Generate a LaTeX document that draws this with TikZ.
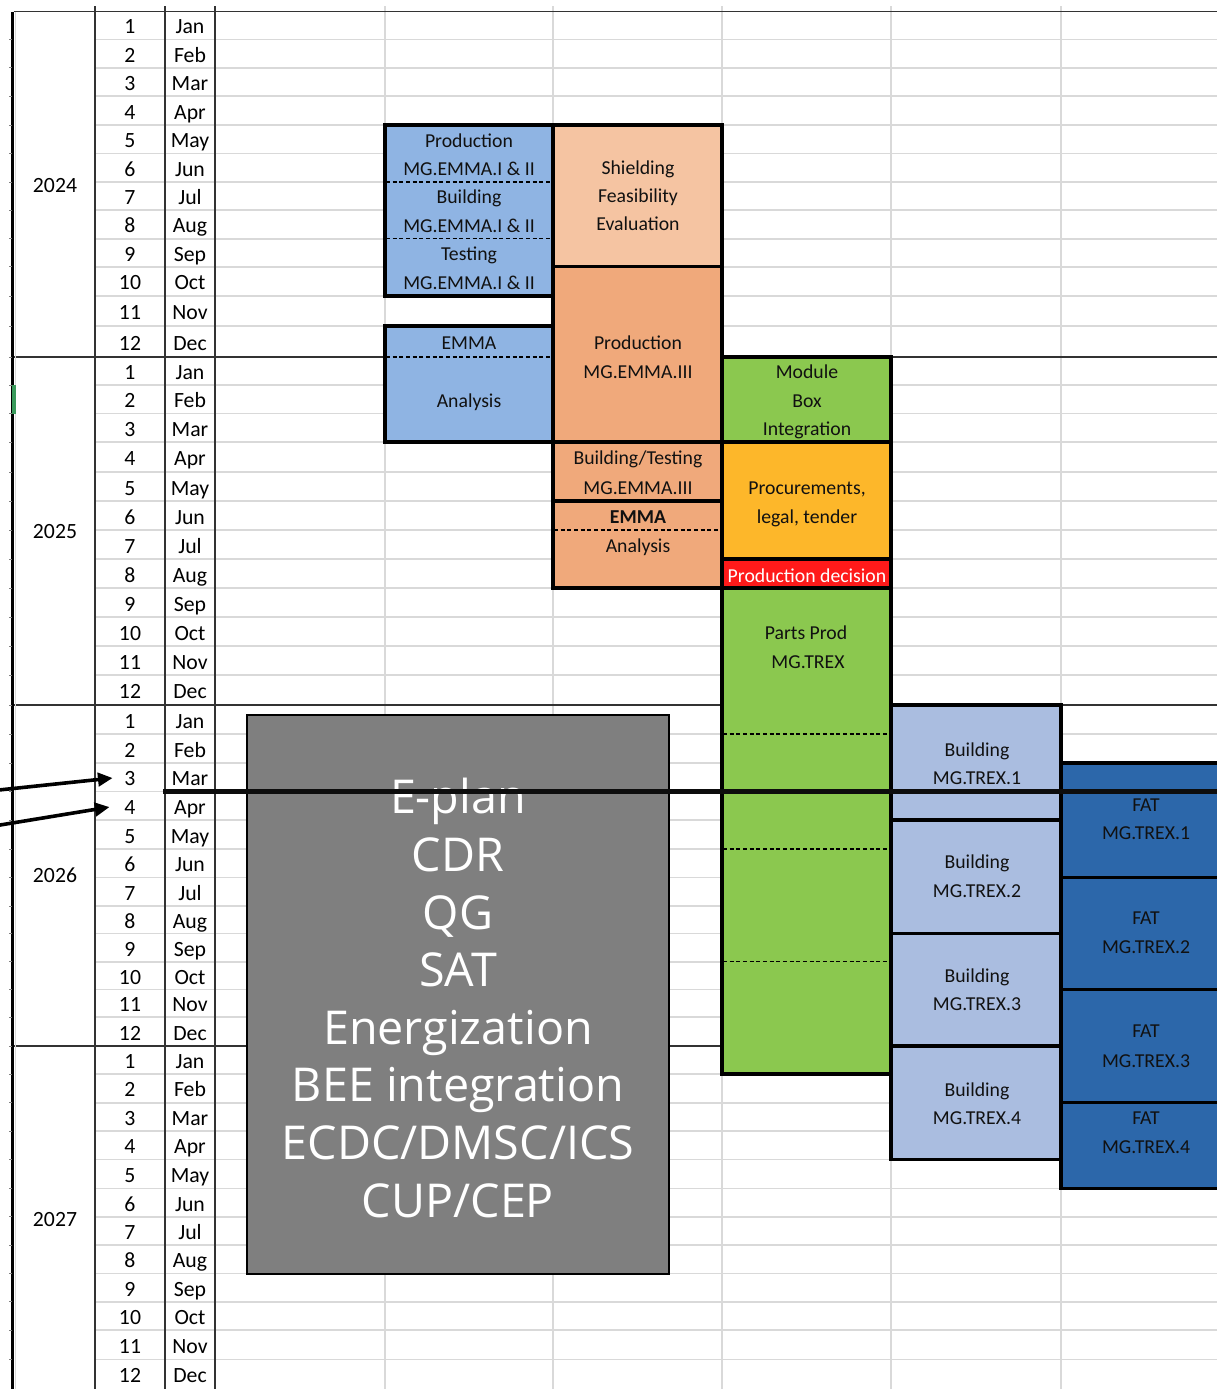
\documentclass[tikz,border=0pt]{standalone}
\usepackage{fontspec}
\setmainfont{Carlito}
\newfontfamily\bigfont{Open Sans}
\usetikzlibrary{arrows.meta}
\definecolor{cblue}{HTML}{8FB4E3}
\definecolor{cpeach}{HTML}{F5C4A2}
\definecolor{corangepeach}{HTML}{F0A97B}
\definecolor{cgreen}{HTML}{8BC84F}
\definecolor{corange}{HTML}{FDB72A}
\definecolor{cred}{HTML}{FF1A1A}
\definecolor{clightblue}{HTML}{AABDE0}
\definecolor{cdarkblue}{HTML}{2C67AA}
\definecolor{cgrey}{HTML}{7F7F7F}
\definecolor{cgridlt}{HTML}{D9D9D9}
\definecolor{cgriddk}{HTML}{333333}
\definecolor{cmark}{HTML}{3A9A5B}
\definecolor{ctxt}{HTML}{111111}
\begin{document}
\begin{tikzpicture}[x=0.75pt,y=-0.75pt,
  gridlt/.style={draw=cgridlt,line width=1.2pt},
  griddk/.style={draw=cgriddk,line width=1.4pt},
  boxline/.style={draw=black,line width=2.4pt},
  divider/.style={draw=black,line width=0.9pt,dash pattern=on 3pt off 2pt},
  celltxt/.style={inner sep=0pt,text height=10.5pt,text depth=0pt,font=\fontsize{16.3}{19}\selectfont,text=black},
  boxtxt/.style={inner sep=0pt,text height=9.5pt,text depth=0pt,font=\fontsize{14.8}{18}\selectfont,text=ctxt},
  bigtxt/.style={inner sep=0pt,align=center,text=white,font=\bigfont\fontsize{35}{43.2}\selectfont},
  pointer/.style={draw=black,line width=2.7pt,-{Triangle[length=11pt,width=10pt]}}]
\useasboundingbox (0,0) rectangle (1217,1389);
\fill[white] (0,0) rectangle (1217,1389);

% light grid
\foreach \yy in {39.3,67.7,96,125,153.5,182,210,238.7,266.7,296,326,385,413.5,442,472,501,530,559,588,617,646,675,734,763,791.5,820,849,877.5,906,933.5,961.7,989.3,1017,1074,1102.7,1131,1159.3,1188.3,1216.7,1245,1273.3,1301.7,1330,1359.3}
  \draw[gridlt] (95,\yy) -- (1217,\yy);
\foreach \xx in {385,553,722,891,1061}
  \draw[gridlt] (\xx,6) -- (\xx,1389);
% dark grid
\draw[griddk] (14,11.5) -- (1217,11.5);
\foreach \yy in {357,705,1046}
  \draw[griddk] (14,\yy) -- (1217,\yy);
\foreach \xx in {95,165,215}
  \draw[griddk] (\xx,6) -- (\xx,1389);
\draw[draw=black,line width=2.25pt] (12.5,11.5) -- (12.5,1389);
\draw[draw=cgridlt,line width=0.8pt] (15.8,11.5) -- (15.8,1389);
\foreach \yy in {39.3,67.7,96,125,153.5,182,210,238.7,266.7,296,326,357,385,413.5,442,472,501,530,559,588,617,646,675,705,734,763,791.5,820,849,877.5,906,933.5,961.7,989.3,1017,1046,1074,1102.7,1131,1159.3,1188.3,1216.7,1245,1273.3,1301.7,1330,1359.3}
  \draw[draw=gray,line width=0.6pt] (9,\yy) -- (11.5,\yy);
\fill[cmark] (11.5,385) rectangle (16,414);

% years
\node[celltxt] (y2024) at (55,185) {2024};
\node[celltxt] (y2025) at (55,531) {2025};
\node[celltxt] (y2026) at (55,875) {2026};
\node[celltxt] (y2027) at (55,1219) {2027};

% month numbers and names
\foreach \yy/\n/\m [count=\i] in {
 26.9/1/Jan,55/2/Feb,83.4/3/Mar,112/4/Apr,140.8/5/May,169.3/6/Jun,197.5/7/Jul,225.9/8/Aug,254.2/9/Sep,282.9/10/Oct,312.5/11/Nov,343/12/Dec,
 372.5/1/Jan,400.8/2/Feb,429.3/3/Mar,458.5/4/Apr,488/5/May,517/6/Jun,546/7/Jul,575/8/Aug,604/9/Sep,633/10/Oct,662/11/Nov,691.5/12/Dec,
 721/1/Jan,750/2/Feb,778.8/3/Mar,807.3/4/Apr,836/5/May,864.8/6/Jun,893.3/7/Jul,921.3/8/Aug,949.1/9/Sep,977/10/Oct,1004.7/11/Nov,1033/12/Dec,
 1061.5/1/Jan,1089.9/2/Feb,1118.4/3/Mar,1146.7/4/Apr,1175.3/5/May,1204/6/Jun,1232.4/7/Jul,1260.7/8/Aug,1289/9/Sep,1317.4/10/Oct,1346.2/11/Nov,1375.2/12/Dec}
{
  \node[celltxt] (n\i) at (130,\yy) {\n};
  \node[celltxt] (m\i) at (190,\yy) {\m};
}

% ---- EMMA boxes (blue)
\filldraw[boxline,fill=cblue] (385,125) rectangle (553,296);
\draw[divider] (386,182) -- (552,182);
\draw[divider] (386,238.7) -- (552,238.7);
\filldraw[boxline,fill=cblue] (385,326) rectangle (553,442);
\draw[divider] (386,357) -- (552,357);
\node[boxtxt] (a1) at (469,140.8) {Production};
\node[boxtxt] (a2) at (469,169.3) {MG.EMMA.I \& II};
\node[boxtxt] (a3) at (469,197.5) {Building};
\node[boxtxt] (a4) at (469,225.9) {MG.EMMA.I \& II};
\node[boxtxt] (a5) at (469,254.2) {Testing};
\node[boxtxt] (a6) at (469,282.9) {MG.EMMA.I \& II};
\node[boxtxt] (a7) at (469,343) {EMMA};
\node[boxtxt] (a8) at (469,400.8) {Analysis};

% ---- peach column
\filldraw[boxline,fill=cpeach] (553,125) rectangle (722,266.7);
\filldraw[boxline,fill=corangepeach] (553,266.7) rectangle (722,442);
\filldraw[boxline,fill=corangepeach] (553,442) rectangle (722,501);
\filldraw[boxline,fill=corangepeach] (553,501) rectangle (722,588);
\draw[divider] (554,530) -- (721,530);
\node[boxtxt] (b1) at (638,168) {Shielding};
\node[boxtxt] (b2) at (638,196) {Feasibility};
\node[boxtxt] (b3) at (638,224) {Evaluation};
\node[boxtxt] (b4) at (638,343) {Production};
\node[boxtxt] (b5) at (638,372.5) {MG.EMMA.III};
\node[boxtxt] (b6) at (638,458.5) {Building/Testing};
\node[boxtxt] (b7) at (638,488) {MG.EMMA.III};
\node[boxtxt] (b8) at (638,517) {\bfseries EMMA};
\node[boxtxt] (b9) at (638,546) {Analysis};

% ---- module / procurement column
\filldraw[boxline,fill=cgreen] (722,357) rectangle (891,442);
\filldraw[boxline,fill=corange] (722,442) rectangle (891,559);
\filldraw[boxline,fill=cred] (722,559) rectangle (891,588);
\filldraw[boxline,fill=cgreen] (722,588) rectangle (891,1074);
\draw[divider] (723,734) -- (890,734);
\draw[divider] (723,849) -- (890,849);
\draw[divider] (723,961.7) -- (890,961.7);
\node[boxtxt] (c1) at (807,372.5) {Module};
\node[boxtxt] (c2) at (807,400.8) {Box};
\node[boxtxt] (c3) at (807,429.3) {Integration};
\node[boxtxt] (c4) at (807,488) {Procurements,};
\node[boxtxt] (c5) at (807,517) {legal, tender};
\node[boxtxt,text=white] (c6) at (807,576) {Production decision};
\node[boxtxt] (c7) at (806,633) {Parts Prod};
\node[boxtxt] (c8) at (808,662) {MG.TREX};

% ---- building TREX
\filldraw[boxline,fill=clightblue] (891,705) rectangle (1061,820);
\filldraw[boxline,fill=clightblue] (891,820) rectangle (1061,933.5);
\filldraw[boxline,fill=clightblue] (891,933.5) rectangle (1061,1046);
\filldraw[boxline,fill=clightblue] (891,1046) rectangle (1061,1159.3);
\node[boxtxt] (d1) at (977,750) {Building};
\node[boxtxt] (d2) at (977,778) {MG.TREX.1};
\node[boxtxt] (d3) at (977,862.5) {Building};
\node[boxtxt] (d4) at (977,891) {MG.TREX.2};
\node[boxtxt] (d5) at (977,976) {Building};
\node[boxtxt] (d6) at (977,1004) {MG.TREX.3};
\node[boxtxt] (d7) at (977,1090) {Building};
\node[boxtxt] (d8) at (977,1118.4) {MG.TREX.4};

% ---- FAT TREX
\filldraw[boxline,fill=cdarkblue] (1061,763) rectangle (1232,877.5);
\filldraw[boxline,fill=cdarkblue] (1061,877.5) rectangle (1232,989.3);
\filldraw[boxline,fill=cdarkblue] (1061,989.3) rectangle (1232,1102.7);
\filldraw[boxline,fill=cdarkblue] (1061,1102.7) rectangle (1232,1188.3);
\node[boxtxt] (e1) at (1146,805.5) {FAT};
\node[boxtxt] (e2) at (1146,833.5) {MG.TREX.1};
\node[boxtxt] (e3) at (1146,918.5) {FAT};
\node[boxtxt] (e4) at (1146,947.5) {MG.TREX.2};
\node[boxtxt] (e5) at (1146,1031.5) {FAT};
\node[boxtxt] (e6) at (1146,1061) {MG.TREX.3};
\node[boxtxt] (e7) at (1146,1118.5) {FAT};
\node[boxtxt] (e8) at (1146,1147) {MG.TREX.4};

% ---- grey milestone box
\filldraw[draw=black,line width=1.8pt,fill=cgrey] (247,715) rectangle (669,1274);
\node[bigtxt] (milestones) at (458,998) {E-plan\\CDR\\QG\\SAT\\Energization\\BEE integration\\ECDC/DMSC/ICS\\CUP/CEP};

% ---- today line and pointers
\draw[draw=black!95,line width=4.4pt] (163,791.5) -- (1232,791.5);
\coordinate (fromA) at (-6,790.5);
\coordinate (fromB) at (-6,826);
\draw[pointer] (fromA) -- ([xshift=-8.7pt,yshift=0.6pt]n27.west);
\draw[pointer] (fromB) -- ([xshift=-11pt,yshift=0.2pt]n28.west);
\end{tikzpicture}
\end{document}
